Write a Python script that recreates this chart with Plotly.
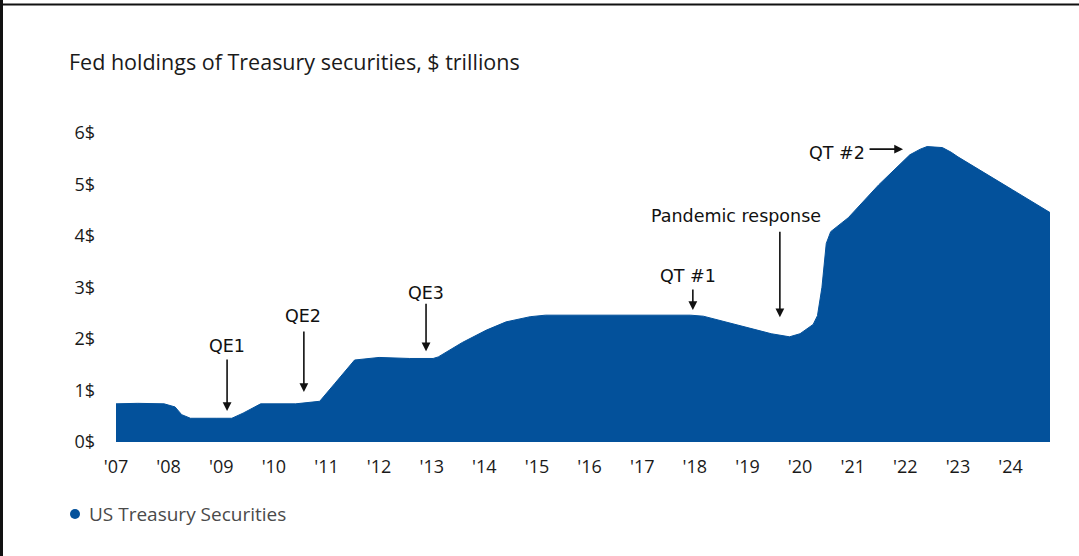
import plotly.graph_objects as go

# Fed holdings of Treasury securities, $ trillions
dates = [
    "2007-01-01", "2007-06-01", "2007-12-01", "2008-02-15", "2008-04-01",
    "2008-06-01", "2008-12-01", "2009-03-15", "2009-06-01", "2009-10-01",
    "2010-06-01", "2010-11-15", "2011-03-01", "2011-07-15", "2012-01-01",
    "2012-08-01", "2013-01-10", "2013-02-15", "2013-08-01", "2014-01-15",
    "2014-06-01", "2014-11-15", "2015-03-01", "2017-12-01", "2018-03-01",
    "2018-08-01", "2019-01-15", "2019-06-15", "2019-10-20", "2020-01-01",
    "2020-04-01", "2020-05-01", "2020-06-01", "2020-06-20", "2020-07-01",
    "2020-08-01", "2020-10-01", "2020-12-01", "2021-07-01", "2022-02-01",
    "2022-04-15", "2022-06-01", "2022-09-15", "2022-11-15", "2023-01-01",
    "2023-06-01", "2024-01-15", "2024-10-01",
]
holdings = [
    0.74, 0.75, 0.74, 0.68, 0.53,
    0.46, 0.46, 0.46, 0.56, 0.74,
    0.74, 0.79, 1.14, 1.59, 1.64,
    1.62, 1.62, 1.65, 1.93, 2.17,
    2.33, 2.43, 2.46, 2.46, 2.44,
    2.33, 2.21, 2.10, 2.04, 2.10,
    2.28, 2.45, 3.00, 3.60, 3.85,
    4.08, 4.22, 4.35, 4.99, 5.57,
    5.68, 5.73, 5.71, 5.62, 5.53,
    5.28, 4.89, 4.45,
]
series_name = "US Treasury Securities"

year_ticks = [f"{y}-01-01" for y in range(2007, 2025)]
year_labels = [f"'{y % 100:02d}" for y in range(2007, 2025)]
value_ticks = [0, 1, 2, 3, 4, 5, 6]
value_labels = [f"{v}$" for v in value_ticks]

BLUE = "#03519B"
W, H = 1079, 556
ML, MR, MT, MB = 116, 29, 112, 114

def px_x(px):
    return (px - ML) / (W - ML - MR)

def px_y(py):
    return (H - MB - py) / (H - MT - MB)

fig = go.Figure()
fig.add_trace(go.Scatter(
    x=dates, y=holdings, mode="lines", fill="tozeroy", name=series_name,
    line=dict(color=BLUE, width=1), fillcolor=BLUE,
    showlegend=False, hoverinfo="skip",
))

# event call-outs: (label, text x, text y, arrow head x, arrow head y, ax, ay)
events = [
    ("QE1", "2009-02-10", 1.86, "2009-02-10", 0.60, 0, -53),
    ("QE2", "2010-07-20", 2.45, "2010-07-28", 0.97, 0, -62),
    ("QE3", "2012-11-22", 2.89, "2012-11-22", 1.76, 0, -49),
    ("QT #1", "2017-11-13", 3.22, "2017-12-18", 2.56, 0, -22),
    ("Pandemic response", "2018-10-13", 4.38, "2019-08-14", 2.42, 0, -87),
    ("QT #2", "2020-09-13", 5.60, "2021-12-16", 5.68, -35, 0),
]
annotations = []
for label, tx, ty, hx, hy, ax, ay in events:
    annotations.append(dict(
        x=tx, y=ty, xref="x", yref="y", text=label, showarrow=False,
        font=dict(family="DejaVu Sans", size=17.5, color="#111"),
        xanchor="center", yanchor="middle",
    ))
    annotations.append(dict(
        x=hx, y=hy, xref="x", yref="y", text="", showarrow=True,
        ax=ax, ay=ay, arrowhead=2, arrowsize=1.1, arrowwidth=1.6,
        arrowcolor="#111", standoff=0, startstandoff=0,
    ))

# chart heading
annotations.append(dict(
    x=px_x(67), y=px_y(62), xref="paper", yref="paper",
    text="Fed holdings of Treasury securities, $ trillions",
    showarrow=False, xanchor="left", yanchor="middle",
    font=dict(family="Open Sans", size=21.5, color="#1a1a1a"),
))

# legend key: dot + series name
annotations.append(dict(
    x=px_x(87), y=px_y(514), xref="paper", yref="paper",
    text=series_name, showarrow=False, xanchor="left", yanchor="middle",
    font=dict(family="Open Sans", size=19, color="#4a4a4a"),
))

shapes = [
    dict(type="line", xref="paper", yref="paper",
         x0=px_x(0), x1=px_x(W), y0=px_y(4.5), y1=px_y(4.5),
         line=dict(color="#111", width=2)),
    dict(type="line", xref="paper", yref="paper",
         x0=px_x(1.5), x1=px_x(1.5), y0=px_y(0), y1=px_y(H),
         line=dict(color="#111", width=3)),
    dict(type="circle", xref="paper", yref="paper",
         x0=px_x(70), x1=px_x(80), y0=px_y(509), y1=px_y(519),
         fillcolor=BLUE, line=dict(width=0)),
]

fig.update_layout(
    width=W, height=H,
    margin=dict(l=ML, r=MR, t=MT, b=MB),
    paper_bgcolor="white", plot_bgcolor="white",
    font=dict(family="Open Sans", color="#222"),
    annotations=annotations, shapes=shapes,
    showlegend=False,
)
fig.update_xaxes(
    type="date", range=["2007-01-01", "2024-10-01"],
    tickvals=year_ticks, ticktext=year_labels,
    showgrid=False, zeroline=False, showline=False, ticks="",
    tickfont=dict(family="Open Sans", size=18, color="#1a1a1a"),
    ticklabelstandoff=12,
)
fig.update_yaxes(
    range=[0, 6.4], tickvals=value_ticks, ticktext=value_labels,
    showgrid=False, zeroline=False, showline=False, ticks="",
    tickfont=dict(family="Open Sans", size=18, color="#1a1a1a"),
    ticklabelstandoff=20,
)

fig.write_html("out.html")
